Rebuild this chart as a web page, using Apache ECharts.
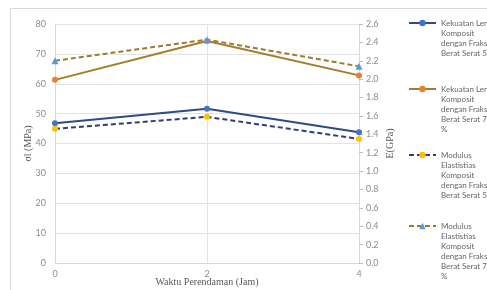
<!DOCTYPE html>
<html>
<head>
<meta charset="utf-8">
<script src="https://cdn.jsdelivr.net/npm/echarts@6/dist/echarts.min.js"></script>
<style>
  html, body { margin: 0; padding: 0; background: #fff; }
  #box { width: 487px; height: 290px; }
</style>
</head>
<body>
<div id="box"></div>
<script>
// data
let waktu = ["0", "2", "4"];
let kekuatan5 = [46.8, 51.6, 43.8];      // MPa
let kekuatan75 = [61.3, 74.3, 62.8];     // MPa
let modulus5 = [1.46, 1.59, 1.35];       // GPa
let modulus75 = [2.20, 2.43, 2.14];      // GPa
let seriesNames = [
  "Kekuatan Lentur Komposit dengan Fraksi Berat Serat 5 %",
  "Kekuatan Lentur Komposit dengan Fraksi Berat Serat 7,5 %",
  "Modulus Elastistias Komposit dengan Fraksi Berat Serat 5 %",
  "Modulus Elastistias Komposit dengan Fraksi Berat Serat 7,5 %"
];
let legendLines = [
  ["Kekuatan Lentur", "Komposit", "dengan Fraksi", "Berat Serat 5 %"],
  ["Kekuatan Lentur", "Komposit", "dengan Fraksi", "Berat Serat 7,5", "%"],
  ["Modulus", "Elastistias", "Komposit", "dengan Fraksi", "Berat Serat 5 %"],
  ["Modulus", "Elastistias", "Komposit", "dengan Fraksi", "Berat Serat 7,5", "%"]
];
let legendFirstLineY = [23, 89, 155, 226];

let chart = echarts.init(document.getElementById("box"), null, { renderer: "canvas" });

let gray = "#595959";
let tickFont = { color: "#8c8c8c", fontSize: 9, fontFamily: "Lato" };
let titleFont = { color: gray, fontSize: 10, fontFamily: "Liberation Serif" };

//# legends, one per entry; the icon sits beside the first text line,
//# so the text is padded with blank lines above to keep it centred there
let lh = 10;
let legends = seriesNames.map((name, i) => {
  let n = legendLines[i].length;
  let pad = new Array(n - 1).fill("");
  return {
    data: [name],
    orient: "vertical",
    left: 408,
    top: legendFirstLineY[i] - lh * n + 5,
    padding: 0,
    itemWidth: 27,
    itemHeight: 8,
    selectedMode: false,
    formatter: () => pad.concat(legendLines[i]).join("\n"),
    textStyle: { color: "#666", fontSize: 8, fontFamily: "Lato", lineHeight: lh }
  };
});

function lineSeries(name, data, axis, lineColor, markColor, symbol, dashed) {
  return {
    name: name,
    type: "line",
    yAxisIndex: axis,
    data: data,
    symbol: symbol,
    symbolSize: symbol === "triangle" ? 7 : 6,
    lineStyle: { color: lineColor, width: 2, type: dashed ? [5, 3] : "solid" },
    itemStyle: { color: markColor, borderWidth: 0 },
    emphasis: { disabled: true }
  };
}

let option = {
  animation: false,
  legend: legends,
  graphic: [{
    type: "rect",
    shape: { x: 10.5, y: 8.5, width: 520, height: 320 },
    style: { fill: "none", stroke: "#d9d9d9", lineWidth: 1 },
    silent: true
  }],
  grid: { left: 55, right: 128, top: 24, bottom: 27, outerBoundsMode: "none", containLabel: false },
  xAxis: {
    type: "category",
    data: waktu,
    boundaryGap: false,
    name: "Waktu Perendaman (Jam)",
    nameLocation: "middle",
    nameGap: 14,
    nameMoveOverlap: false,
    nameTextStyle: titleFont,
    axisLine: { lineStyle: { color: "#d9d9d9" } },
    axisTick: { show: false },
    axisLabel: Object.assign({ margin: 7 }, tickFont),
    splitLine: { show: true, lineStyle: { color: "#e3e3e3" } }
  },
  yAxis: [{
    type: "value",
    min: 0, max: 80, interval: 10,
    name: "σl (MPa)",
    nameLocation: "middle",
    nameGap: 22,
    nameMoveOverlap: false,
    nameTextStyle: titleFont,
    axisLine: { show: true, lineStyle: { color: "#d9d9d9" } },
    axisTick: { show: false },
    axisLabel: Object.assign({ margin: 9 }, tickFont),
    splitLine: { lineStyle: { color: "#e3e3e3" } }
  }, {
    type: "value",
    min: 0, max: 2.6, interval: 0.2,
    name: "E(GPa)",
    nameLocation: "middle",
    nameGap: 26,
    nameMoveOverlap: false,
    nameTextStyle: titleFont,
    axisLine: { show: true, lineStyle: { color: "#d9d9d9" } },
    axisTick: { show: true, length: 4, lineStyle: { color: "#bfbfbf" } },
    axisLabel: Object.assign({ margin: 7, formatter: v => v.toFixed(1) }, tickFont),
    splitLine: { show: false }
  }],
  series: [
    lineSeries(seriesNames[0], kekuatan5, 0, "#2f4a86", "#4472c4", "circle", false),
    lineSeries(seriesNames[1], kekuatan75, 0, "#a67c2a", "#ed7d31", "circle", false),
    lineSeries(seriesNames[2], modulus5, 1, "#2f3f72", "#ffc000", "circle", true),
    lineSeries(seriesNames[3], modulus75, 1, "#9c7a2e", "#5b9bd5", "triangle", true)
  ]
};

chart.setOption(option);
</script>
</body>
</html>
